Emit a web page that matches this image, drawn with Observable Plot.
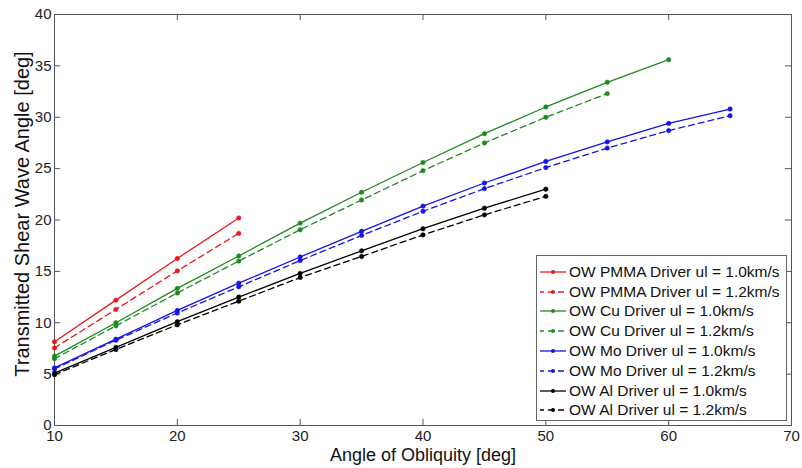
<!DOCTYPE html>
<html>
<head>
<meta charset="utf-8">
<script src="https://cdn.jsdelivr.net/npm/d3@7"></script>
<script src="https://cdn.jsdelivr.net/npm/@observablehq/plot@0.6"></script>
<style>
  html, body { margin: 0; padding: 0; background: #fff; }
  #wrap { position: relative; width: 802px; height: 468px; font-family: "Liberation Sans", Arial, sans-serif; }
  #legend { position: absolute; left: 536px; top: 255px; width: 251px; height: 166px; box-sizing: border-box;
            border: 1px solid #666; background: #fff; padding-top: 6px; }
  .row { height: 19.8px; display: flex; align-items: center; font-size: 15.5px; color: #111; white-space: nowrap; }
  .row svg { margin-left: 2px; margin-right: 2px; }
</style>
</head>
<body>
<div id="wrap"></div>
<script>
// Angles of obliquity (deg)
const angles = [10, 15, 20, 25, 30, 35, 40, 45, 50, 55, 60, 65];
const xTicks = [10, 20, 30, 40, 50, 60, 70];
const yTicks = [0, 5, 10, 15, 20, 25, 30, 35, 40];

const seriesNames = [
  "OW PMMA Driver ul = 1.0km/s",
  "OW PMMA Driver ul = 1.2km/s",
  "OW Cu Driver ul = 1.0km/s",
  "OW Cu Driver ul = 1.2km/s",
  "OW Mo Driver ul = 1.0km/s",
  "OW Mo Driver ul = 1.2km/s",
  "OW Al Driver ul = 1.0km/s",
  "OW Al Driver ul = 1.2km/s"
];
const seriesColors = ["#e8191b", "#e8191b", "#1f8a1f", "#1f8a1f", "#1414e6", "#1414e6", "#000000", "#000000"];
const seriesDashed = [false, true, false, true, false, true, false, true];

// Transmitted shear wave angle (deg)
const pmma10 = [8.15, 12.2, 16.25, 20.2];
const pmma12 = [7.55, 11.3, 15.05, 18.7];
const cu10 = [6.75, 10.0, 13.35, 16.5, 19.7, 22.7, 25.6, 28.4, 31.0, 33.4, 35.6];
const cu12 = [6.5, 9.7, 12.9, 16.0, 19.05, 21.95, 24.8, 27.5, 30.0, 32.3];
const mo10 = [5.6, 8.4, 11.2, 13.85, 16.4, 18.9, 21.35, 23.6, 25.7, 27.6, 29.4, 30.8];
const mo12 = [5.5, 8.3, 10.95, 13.5, 16.05, 18.5, 20.85, 23.05, 25.1, 27.0, 28.7, 30.15];
const al10 = [5.1, 7.6, 10.1, 12.5, 14.8, 17.0, 19.15, 21.15, 23.0];
const al12 = [4.95, 7.4, 9.8, 12.1, 14.4, 16.45, 18.55, 20.5, 22.3];

const seriesValues = [pmma10, pmma12, cu10, cu12, mo10, mo12, al10, al12];

const rows = [];
seriesValues.forEach((vals, i) => {
  vals.forEach((v, j) => rows.push({series: i, x: angles[j], y: v}));
});

const marks = [];
seriesValues.forEach((vals, i) => {
  const data = rows.filter(d => d.series === i);
  marks.push(Plot.line(data, {
    x: "x", y: "y", stroke: seriesColors[i], strokeWidth: 1.3,
    strokeDasharray: seriesDashed[i] ? "6,4" : null
  }));
  marks.push(Plot.dot(data, {x: "x", y: "y", fill: seriesColors[i], r: 2.2, stroke: seriesColors[i], strokeWidth: 0.6}));
});

const axisColor = "#555";
const chart = Plot.plot({
  width: 802,
  height: 468,
  marginLeft: 54,
  marginRight: 11,
  marginTop: 14,
  marginBottom: 43,
  style: {fontFamily: "'Liberation Sans', Arial, sans-serif", background: "#fff", color: "#222"},
  x: {domain: [10, 70]},
  y: {domain: [0, 40]},
  marks: [
    // inward ticks on all four sides
    Plot.ruleX(xTicks, {x: d => d, y1: 0, y2: 0.6, stroke: axisColor}),
    Plot.ruleX(xTicks, {x: d => d, y1: 40, y2: 39.4, stroke: axisColor}),
    Plot.ruleY(yTicks, {y: d => d, x1: 10, x2: 10.5, stroke: axisColor}),
    Plot.ruleY(yTicks, {y: d => d, x1: 70, x2: 69.5, stroke: axisColor}),
    Plot.frame({stroke: axisColor}),
    Plot.axisX(xTicks, {tickSize: 0, tickPadding: 5, fontSize: 15, label: null, fill: "#222"}),
    Plot.axisY(yTicks, {tickSize: 0, tickPadding: 3, fontSize: 15, label: null, fill: "#222"}),
    ...marks,
    Plot.text(["Angle of Obliquity [deg]"], {frameAnchor: "bottom", dy: 30, fontSize: 18, fill: "#111", lineAnchor: "middle"}),
    Plot.text(["Transmitted Shear Wave Angle [deg]"], {frameAnchor: "left", dx: -32, dy: -6, rotate: -90, textAnchor: "middle", lineAnchor: "middle", fontSize: 20, fill: "#111"})
  ]
});

const wrap = document.getElementById("wrap");
wrap.appendChild(chart);

// Legend
const legend = document.createElement("div");
legend.id = "legend";
seriesNames.forEach((name, i) => {
  const row = document.createElement("div");
  row.className = "row";
  const dash = seriesDashed[i] ? 'stroke-dasharray="6,4" stroke-dashoffset="2"' : "";
  row.innerHTML = `<svg width="28" height="10"><line x1="1" y1="5" x2="27" y2="5" stroke="${seriesColors[i]}" stroke-width="1.3" ${dash}/><circle cx="14" cy="5" r="2" fill="${seriesColors[i]}"/></svg><span>${name}</span>`;
  legend.appendChild(row);
});
wrap.appendChild(legend);
</script>
</body>
</html>
